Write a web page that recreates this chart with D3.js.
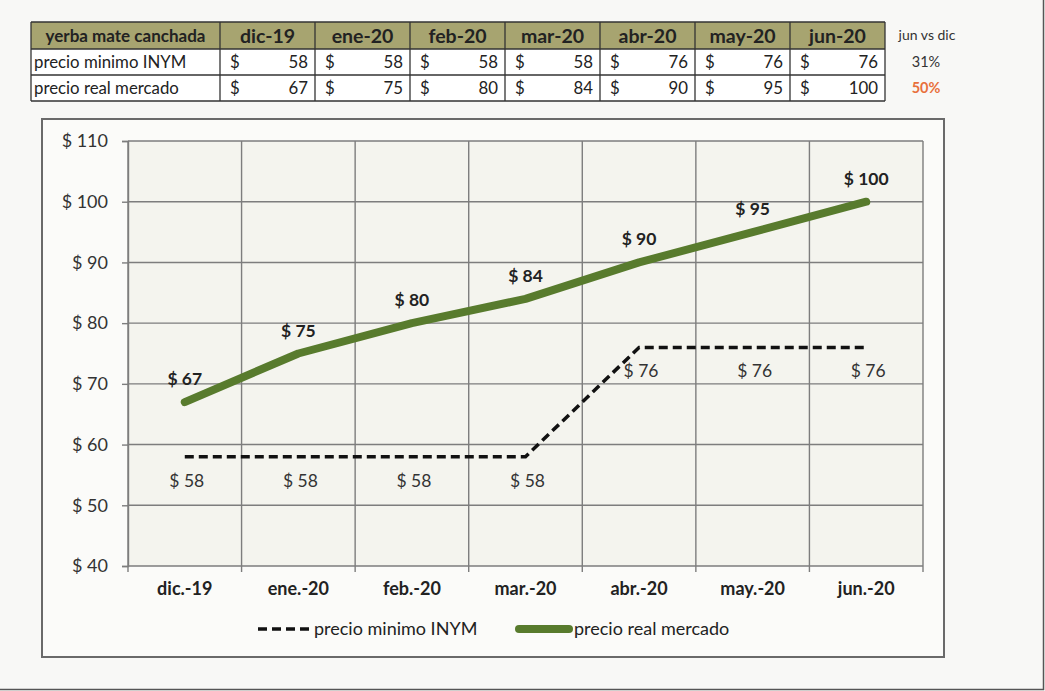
<!DOCTYPE html>
<html>
<head>
<meta charset="utf-8">
<script src="https://cdn.jsdelivr.net/npm/d3@7"></script>
<style>
  body { margin: 0; background: #f8f8f6; }
  svg { display: block; font-family: Lato, "Open Sans", sans-serif; }
</style>
</head>
<body>
<svg id="grafico" width="1045" height="691"></svg>
<script>
// datos
const meses = ["dic-19", "ene-20", "feb-20", "mar-20", "abr-20", "may-20", "jun-20"];
const mesesEje = ["dic.-19", "ene.-20", "feb.-20", "mar.-20", "abr.-20", "may.-20", "jun.-20"];
const precioMinimo = [58, 58, 58, 58, 76, 76, 76];
const precioReal = [67, 75, 80, 84, 90, 95, 100];
const variacion = ["31%", "50%"];
const ticksY = [40, 50, 60, 70, 80, 90, 100, 110];

const svg = d3.select("#grafico");
const width = +svg.attr("width");
const height = +svg.attr("height");

const verde = "#587b2d";
const grilla = "#7d7d7d";

// borde del escaneo
svg.append("rect")
  .attr("x", -2).attr("y", -2)
  .attr("width", width + 0.5).attr("height", height + 0.5)
  .attr("fill", "#f8f8f6")
  .attr("stroke", "#555").attr("stroke-width", 1.5);

// ----------------------------------------------------
// TABLA
// ----------------------------------------------------
const tablaX = 31, tablaY = 22;
const col0 = 189, colW = 95;
const filaH = [27, 26, 26];

const filas = [
  { nombre: "precio minimo INYM", valores: precioMinimo },
  { nombre: "precio real mercado", valores: precioReal }
];

const tabla = svg.append("g");
const totalW = col0 + colW * meses.length;
const tablaH = d3.sum(filaH);

// encabezado
tabla.append("rect")
  .attr("x", tablaX).attr("y", tablaY)
  .attr("width", totalW).attr("height", filaH[0])
  .attr("fill", "#a7a470");

tabla.append("rect")
  .attr("x", tablaX).attr("y", tablaY + filaH[0])
  .attr("width", totalW).attr("height", filaH[1] + filaH[2])
  .attr("fill", "#fff");

tabla.append("text")
  .attr("x", tablaX + col0 / 2).attr("y", tablaY + 19.5)
  .attr("text-anchor", "middle")
  .style("font-size", "17px").style("font-weight", "bold").attr("fill", "#222")
  .text("yerba mate canchada");

tabla.selectAll(".mes")
  .data(meses)
  .enter()
  .append("text")
    .attr("x", (d, i) => tablaX + col0 + colW * i + colW / 2)
    .attr("y", tablaY + 20.5)
    .attr("text-anchor", "middle")
    .style("font-size", "19.5px").style("font-weight", "bold").attr("fill", "#222")
    .text(d => d);

filas.forEach((f, r) => {
  const yBase = tablaY + filaH[0] + 26 * r + 19;
  tabla.append("text")
    .attr("x", tablaX + 3).attr("y", yBase)
    .style("font-size", "16.8px").attr("fill", "#222")
    .text(f.nombre);

  f.valores.forEach((v, i) => {
    const cx = tablaX + col0 + colW * i;
    tabla.append("text")
      .attr("x", cx + 10).attr("y", yBase)
      .style("font-size", "16.8px").attr("fill", "#222")
      .text("$");
    tabla.append("text")
      .attr("x", cx + colW - 7).attr("y", yBase)
      .attr("text-anchor", "end")
      .style("font-size", "16.8px").attr("fill", "#222")
      .text(v);
  });

  tabla.append("text")
    .attr("x", 926).attr("y", yBase - 1)
    .attr("text-anchor", "middle")
    .style("font-size", "14.5px")
    .style("font-weight", r === 1 ? "bold" : "normal")
    .attr("fill", r === 1 ? "#e8703c" : "#333")
    .text(variacion[r]);
});

// líneas de la tabla
d3.range(filaH.length + 1).forEach(k => {
  const yy = tablaY + d3.sum(filaH.slice(0, k));
  tabla.append("line")
    .attr("x1", tablaX).attr("x2", tablaX + totalW)
    .attr("y1", yy).attr("y2", yy)
    .attr("stroke", "#333").attr("stroke-width", 1.3);
});
d3.range(meses.length + 2).forEach(i => {
  const xx = i === 0 ? tablaX : tablaX + col0 + colW * (i - 1);
  tabla.append("line")
    .attr("x1", xx).attr("x2", xx)
    .attr("y1", tablaY).attr("y2", tablaY + tablaH)
    .attr("stroke", "#333").attr("stroke-width", 1.3);
});

tabla.append("text")
  .attr("x", 927).attr("y", tablaY + 18)
  .attr("text-anchor", "middle")
  .style("font-size", "14px").attr("fill", "#333")
  .text("jun vs dic");

// ----------------------------------------------------
// GRÁFICO
// ----------------------------------------------------
svg.append("rect")
  .attr("x", 42).attr("y", 119)
  .attr("width", 902).attr("height", 538)
  .attr("fill", "#fbfbf9")
  .attr("stroke", "#6a6a6a").attr("stroke-width", 2);

const leftMargin = 128, rightEdge = 923, topEdge = 141, bottomEdge = 566;

const x = d3.scaleBand()
  .domain(mesesEje)
  .range([leftMargin, rightEdge]);

const y = d3.scaleLinear()
  .domain([40, 110])
  .range([bottomEdge, topEdge]);

svg.append("rect")
  .attr("x", leftMargin).attr("y", topEdge)
  .attr("width", rightEdge - leftMargin).attr("height", bottomEdge - topEdge)
  .attr("fill", "#f4f4ee");

// grilla horizontal
svg.append("g")
  .selectAll("line")
  .data(ticksY)
  .enter()
  .append("line")
    .attr("x1", leftMargin).attr("x2", rightEdge)
    .attr("y1", d => y(d)).attr("y2", d => y(d))
    .attr("stroke", grilla).attr("stroke-width", 1.4);

// grilla vertical
svg.append("g")
  .selectAll("line")
  .data(d3.range(mesesEje.length + 1))
  .enter()
  .append("line")
    .attr("x1", i => leftMargin + x.step() * i).attr("x2", i => leftMargin + x.step() * i)
    .attr("y1", topEdge).attr("y2", bottomEdge + 6)
    .attr("stroke", grilla).attr("stroke-width", 1.4);

// EJE Y
const ejeY = svg.append("g")
  .attr("transform", `translate(${leftMargin}, 0)`)
  .call(d3.axisLeft(y).tickValues(ticksY).tickSize(6).tickPadding(14).tickFormat(d => "$ " + d));
ejeY.select(".domain").attr("stroke", grilla).attr("stroke-width", 1.4);
ejeY.selectAll(".tick line").attr("stroke", grilla).attr("stroke-width", 1.4);
ejeY.selectAll(".tick text")
  .style("font-size", "18px").style("font-family", "Lato, sans-serif").attr("fill", "#333");

// EJE X
const ejeX = svg.append("g")
  .attr("transform", `translate(0, ${bottomEdge})`)
  .call(d3.axisBottom(x).tickSize(0).tickPadding(16));
ejeX.select(".domain").remove();
ejeX.selectAll(".tick text")
  .style("font-size", "18px").style("font-weight", "bold")
  .style("font-family", "Lato, sans-serif").attr("fill", "#222");

const cx = (d, i) => x(mesesEje[i]) + x.bandwidth() / 2;

// línea precio mínimo
svg.append("path")
  .datum(precioMinimo)
  .attr("fill", "none")
  .attr("stroke", "#111")
  .attr("stroke-width", 3.5)
  .attr("stroke-dasharray", "9,5")
  .attr("d", d3.line().x(cx).y(d => y(d)));

// línea precio real
svg.append("path")
  .datum(precioReal)
  .attr("fill", "none")
  .attr("stroke", verde)
  .attr("stroke-width", 8)
  .attr("stroke-linecap", "round")
  .attr("stroke-linejoin", "round")
  .attr("d", d3.line().x(cx).y(d => y(d)));

// etiquetas
svg.append("g")
  .selectAll("text")
  .data(precioReal)
  .enter()
  .append("text")
    .attr("x", cx)
    .attr("y", d => y(d) - 17)
    .attr("text-anchor", "middle")
    .style("font-size", "17.5px").style("font-weight", "bold").attr("fill", "#222")
    .text(d => "$ " + d);

svg.append("g")
  .selectAll("text")
  .data(precioMinimo)
  .enter()
  .append("text")
    .attr("x", (d, i) => cx(d, i) + 2)
    .attr("y", d => y(d) + 30)
    .attr("text-anchor", "middle")
    .style("font-size", "17.5px").attr("fill", "#333")
    .text(d => "$ " + d);

// LEYENDA
const ley = svg.append("g").attr("transform", "translate(0, 629)");
ley.append("line")
  .attr("x1", 258).attr("x2", 311)
  .attr("stroke", "#111").attr("stroke-width", 3.5)
  .attr("stroke-dasharray", "9,5");
ley.append("text")
  .attr("x", 314).attr("y", 6)
  .style("font-size", "18px").attr("fill", "#222")
  .text("precio minimo INYM");
ley.append("line")
  .attr("x1", 519).attr("x2", 569)
  .attr("stroke", verde).attr("stroke-width", 8)
  .attr("stroke-linecap", "round");
ley.append("text")
  .attr("x", 574).attr("y", 6)
  .style("font-size", "18px").attr("fill", "#222")
  .text("precio real mercado");
</script>
</body>
</html>
